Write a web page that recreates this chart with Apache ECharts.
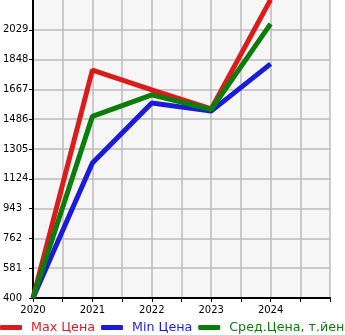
<!DOCTYPE html>
<html><head><meta charset="utf-8">
<script src="https://cdn.jsdelivr.net/npm/echarts@6/dist/echarts.min.js"></script>
<style>html,body{margin:0;padding:0;background:#fff}#c{width:345px;height:335px}</style>
</head><body><div id="c"></div>
<script>
const years = [2020, 2021, 2022, 2023, 2024];
const maxPrice = [400, 1784, 1664, 1548, 2212];
const minPrice = [400, 1220, 1585, 1535, 1822];
const avgPrice = [400, 1503, 1634, 1545, 2065];
const yTicks = [400, 581, 762, 943, 1124, 1305, 1486, 1667, 1848, 2029];
const seriesNames = ['Max Цена', 'Min Цена', 'Сред.Цена, т.йен'];
const colors = ['#db1c1c', '#1c1cd8', '#0b7d0b'];
const font = 'DejaVu Sans, sans-serif';

const chart = echarts.init(document.getElementById('c'), null, {renderer: 'canvas'});
const allData = [maxPrice, minPrice, avgPrice];
chart.setOption({
  animation: false,
  grid: {left: 30, right: 15, top: 0, bottom: 37, show: true, backgroundColor: '#f6f6f6', borderWidth: 0},
  legend: {
    left: 0, bottom: 1, itemWidth: 22, itemHeight: 5, itemGap: 6,
    icon: 'roundRect', padding: 0,
    textStyle: {fontFamily: font, fontSize: 12.7, padding: [0,0,0,4]},
    data: seriesNames.map((n, i) => ({name: n, textStyle: {color: colors[i]}}))
  },
  xAxis: {
    type: 'value', min: 2020, max: 2025, interval: 0.5,
    axisLine: {lineStyle: {color: '#000', width: 2}},
    axisTick: {show: true, length: 4, lineStyle: {color: '#000'}},
    axisLabel: {
      fontFamily: font, fontSize: 10, color: '#000', margin: 7,
      formatter: v => (Number.isInteger(v) && v < 2025) ? String(v) : ''
    },
    splitLine: {show: true, lineStyle: {color: '#bbbbbb', width: 1.5}}
  },
  yAxis: {
    type: 'value', min: 400, max: 2210,
    axisLine: {show: true, lineStyle: {color: '#000', width: 2}},
    axisTick: {show: true, length: 4, lineStyle: {color: '#000'}, customValues: yTicks},
    axisLabel: {
      fontFamily: font, fontSize: 10, color: '#000', align: 'left', margin: 30,
      verticalAlign: 'middle', padding: [0, 0, 6, 0], customValues: yTicks,
      formatter: v => String(v)
    },
    splitLine: {show: true, lineStyle: {color: '#bbbbbb', width: 1.5}}
  },
  series: seriesNames.map((n, i) => ({
    name: n, type: 'line', symbol: 'none', color: colors[i],
    lineStyle: {width: 5, color: colors[i]},
    data: years.map((y, j) => [y, allData[i][j]])
  }))
});
</script></body></html>
